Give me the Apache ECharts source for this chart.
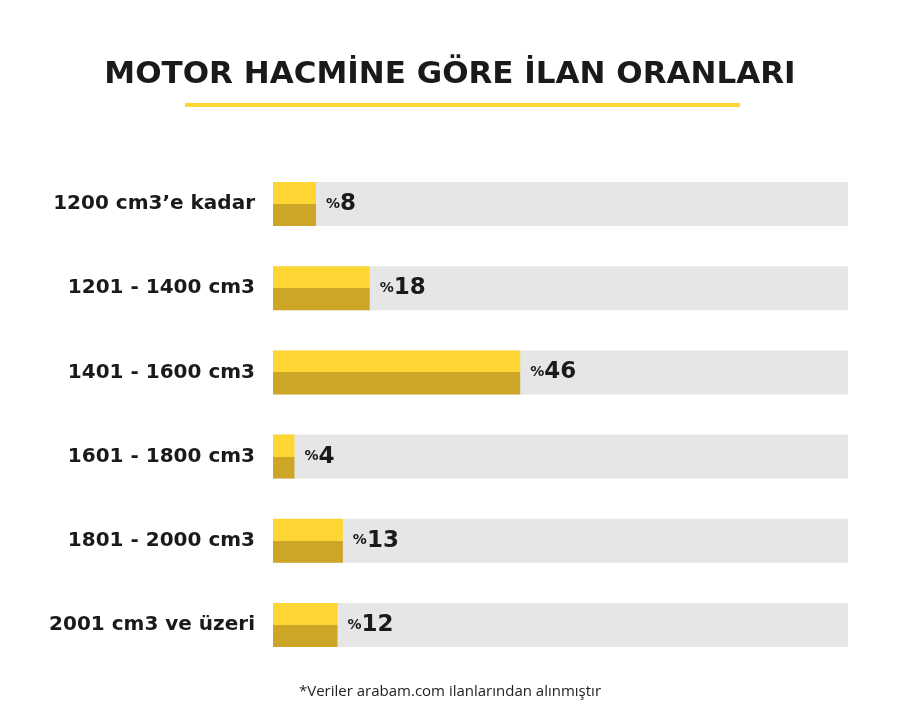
<!DOCTYPE html><html><head><meta charset="utf-8"><script src="https://cdn.jsdelivr.net/npm/echarts@6/dist/echarts.min.js"></script>
<style>html,body{margin:0;background:#fff}#c{width:900px;height:717px}</style></head><body><div id="c"></div><script>
const categories=["1200 cm3’e kadar","1201 - 1400 cm3","1401 - 1600 cm3","1601 - 1800 cm3","1801 - 2000 cm3","2001 cm3 ve üzeri"];
const values=[8,18,46,4,13,12];
const fullValue=107;
const chart=echarts.init(document.getElementById('c'));
const grad={type:'linear',x:0,y:0,x2:0,y2:1,colorStops:[{offset:0,color:'#FDD633'},{offset:0.5,color:'#FDD633'},{offset:0.5,color:'#CDA527'},{offset:1,color:'#CDA527'}]};
chart.setOption({
title:{text:'MOTOR HACMİNE GÖRE İLAN ORANLARI',left:'center',top:54,textStyle:{fontFamily:'DejaVu Sans',fontWeight:'bold',fontSize:31,color:'#1a1a1a'}},
graphic:[{type:'rect',shape:{x:185,y:103,width:555,height:4},style:{fill:'#FDD633'}},
{type:'text',left:'center',top:684,style:{text:'*Veriler arabam.com ilanlarından alınmıştır',font:'15px "Open Sans"',fill:'#222'}}],
grid:{left:273,right:52,top:162,bottom:50},
xAxis:{type:'value',min:0,max:fullValue,show:false},
yAxis:{type:'category',data:categories,inverse:true,axisLine:{show:false},axisTick:{show:false},
axisLabel:{margin:18,fontFamily:'DejaVu Sans',fontWeight:'bold',fontSize:20,color:'#1a1a1a'}},
series:[
{type:'bar',data:categories.map(()=>fullValue),barWidth:44,barGap:'-100%',itemStyle:{color:'#E6E6E6'},silent:true},
{type:'bar',data:values,barWidth:44,itemStyle:{color:grad},
label:{show:true,position:'right',distance:10,formatter:p=>'{a|%}{b|'+p.value+'}',
rich:{a:{fontFamily:'DejaVu Sans',fontWeight:'bold',fontSize:14,color:'#1a1a1a'},b:{fontFamily:'DejaVu Sans',fontWeight:'bold',fontSize:23,color:'#1a1a1a'}}}}
]});
</script></body></html>
